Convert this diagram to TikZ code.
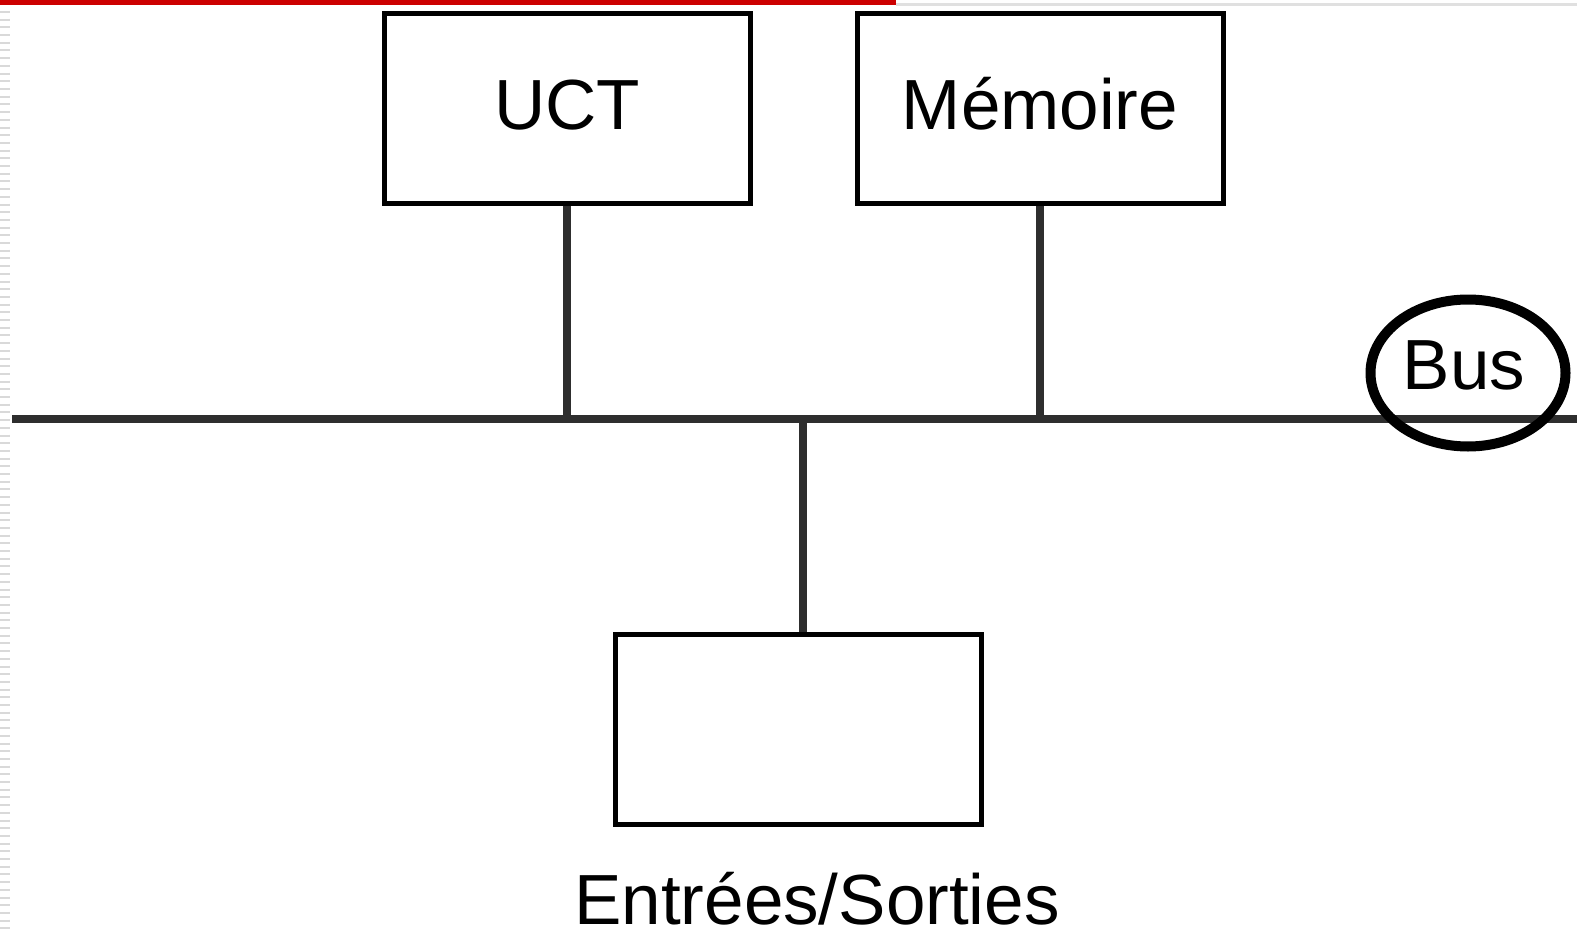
\documentclass[tikz,border=0pt]{standalone}
\usepackage{fontspec}
\setmainfont{Liberation Sans}
\usepackage{tikz}
\usepackage{xcolor}
\usetikzlibrary{shapes.geometric}

\definecolor{slidered}{RGB}{204,0,0}

\tikzset{
    unitbox/.style={draw, line width=5pt, minimum width=366pt, minimum height=190pt,
        inner sep=0pt, text height=53pt, text depth=12pt, font=\fontsize{71}{78}\selectfont},
    wire/.style={line width=8pt, draw=black!82},
    bigtext/.style={font=\fontsize{71}{78}\selectfont, inner sep=0pt}
}

\begin{document}
\begin{tikzpicture}[x=1pt, y=-1pt]
    % Page frame
    \useasboundingbox (0,0) rectangle (1577,934);
    \fill[white] (0,0) rectangle (1577,934);

    % Slide decorations
    \fill[slidered] (0,0) rectangle (896,5);
    \fill[black!12] (896,3) rectangle (1577,6);
    \draw[black!15, line width=10pt, dash pattern=on 2pt off 5.7pt] (5,11) -- (5,934);

    % The three units
    \node[unitbox] (uct) at (567,108.5) {UCT};
    \node[unitbox] (memoire) at (1040,108.5) {Mémoire};
    \node[unitbox] (es) at (798.5,729.5) {};
    \node[bigtext, anchor=base] (eslabel) at (817,924) {Entrées/Sorties};

    % The bus
    \coordinate (busL) at (12,419);
    \coordinate (busR) at (1577,419);
    \draw[wire] (busL) -- (busR);

    % Stems from the units to the bus
    \draw[wire] (uct.south) -- (uct.south |- busL);
    \draw[wire] (memoire.south) -- (memoire.south |- busL);
    \draw[wire] (es.north -| 802.5,0) -- (802.5,419);

    % Bus label
    \node[draw, ellipse, line width=10pt, minimum width=195pt, minimum height=147pt] (busring) at (1468,373) {};
    \node[bigtext, anchor=base] (buslabel) at (1464,389) {Bus};
\end{tikzpicture}
\end{document}
